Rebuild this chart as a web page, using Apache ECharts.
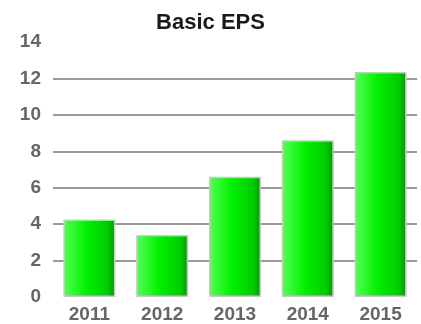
<!DOCTYPE html>
<html><head><meta charset="utf-8">
<script src="https://cdn.jsdelivr.net/npm/echarts@6/dist/echarts.min.js"></script>
<style>html,body{margin:0;padding:0;background:#fff}#c{width:421px;height:324px}</style>
</head><body><div id="c"></div>
<script>
var categories = ['2011', '2012', '2013', '2014', '2015'];
var eps = [4.25, 3.4, 6.6, 8.6, 12.35];
var yTicks = [0, 2, 4, 6, 8, 10, 12, 14];

var chart = echarts.init(document.getElementById('c'), null, {renderer: 'canvas'});
chart.setOption({
  animation: false,
  backgroundColor: '#fff',
  title: {
    text: 'Basic EPS', left: 'center', top: 7,
    textStyle: {fontFamily: 'Liberation Sans, Arial', fontSize: 22, fontWeight: 'bold', color: '#1a1a1a'}
  },
  grid: {left: 53, right: 4, top: 42, bottom: 26.5},
  xAxis: {
    type: 'category', data: categories,
    axisLine: {show: false}, axisTick: {show: false},
    axisLabel: {fontFamily: 'Liberation Sans, Arial', fontSize: 19, fontWeight: 'bold', color: '#666', margin: 8}
  },
  yAxis: {
    type: 'value', min: yTicks[0], max: yTicks[yTicks.length - 1], interval: 2,
    axisLine: {show: false}, axisTick: {show: false},
    axisLabel: {fontFamily: 'Liberation Sans, Arial', fontSize: 19, fontWeight: 'bold', color: '#666', margin: 12},
    splitLine: {show: true, showMinLine: false, showMaxLine: false, lineStyle: {color: '#999', width: 2}}
  },
  series: [{
    type: 'bar', data: eps, barWidth: 52,
    itemStyle: {
      borderColor: '#c8c8c8', borderWidth: 1.5,
      color: new echarts.graphic.LinearGradient(0, 0, 1, 0, [
        {offset: 0, color: '#55ff55'},
        {offset: 0.45, color: '#00f000'},
        {offset: 0.85, color: '#00cc00'},
        {offset: 1, color: '#009900'}
      ])
    }
  }]
});
</script></body></html>
